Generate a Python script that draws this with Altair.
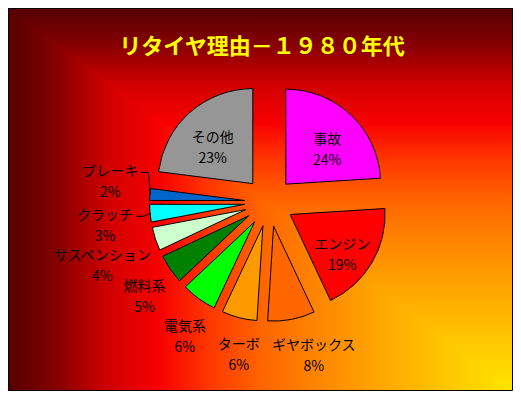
import altair as alt
import pandas as pd

# ---------------- data ----------------
TITLE = "リタイヤ理由－１９８０年代"
reasons = ["事故", "エンジン", "ギヤボックス", "ターボ", "電気系", "燃料系",
           "サスペンション", "クラッチ", "ブレーキ", "その他"]
shares = [24, 19, 8, 6, 6, 5, 4, 3, 2, 23]
colors = ["#FF00FF", "#FF0000", "#FF6600", "#FF9900", "#00FF00", "#008000",
          "#CCFFCC", "#00FFFF", "#0066CC", "#969696"]

# ---------------- layout / style ----------------
W, H = 505, 383
CX, CY = 261, 194          # pie centre (pixels)
OUTER = 95                 # pie radius
EXPLODE = 24.5             # slice explosion distance
R_IN = 85                  # radius for labels inside big slices
R_OUT = 123                # base radius for outside labels
HALF_H = 18                # half height of a two-line label
CHAR_HALF = 7              # half width of one full-width char
FONT = "Noto Sans CJK JP"
NUDGE = {"ギヤボックス": (17, -2), "ターボ": (6, 2), "電気系": (4, 4),
         "クラッチ": (-12, 0), "ブレーキ": (-7, -20)}
LEADERS = ["クラッチ", "ブレーキ"]

STOPS = [(0.00, "#550000"), (0.05, "#6E0000"), (0.10, "#880000"), (0.20, "#D20000"),
         (0.30, "#F80000"), (0.40, "#FF3800"), (0.50, "#FF6400"), (0.60, "#FF8200"),
         (0.75, "#FFAA00"), (1.00, "#FFE600")]
stops = [alt.GradientStop(offset=o, color=c) for o, c in STOPS]
GRAD_H = alt.LinearGradient(gradient="linear", stops=stops, x1=0, x2=1, y1=0, y2=0)
GRAD_V = alt.LinearGradient(gradient="linear", stops=stops, x1=0, x2=0, y1=0, y2=1)

df = pd.DataFrame({"reason": reasons, "share": shares, "idx": list(range(len(reasons)))})


def nudge_expr(i):
    expr = "0"
    for name, d in NUDGE.items():
        expr = f"datum.reason === '{name}' ? {d[i]} : ({expr})"
    return expr


base = (
    alt.Chart(df)
    .transform_window(cum="sum(share)", sort=[alt.SortField("idx", order="ascending")], frame=[None, 0])
    .transform_joinaggregate(total="sum(share)")
    .transform_calculate(
        t0="2*PI*(datum.cum - datum.share)/datum.total",
        t1="2*PI*datum.cum/datum.total",
        tm="(datum.t0 + datum.t1)/2",
        s="sin(datum.tm)",
        c="cos(datum.tm)",
        px=f"{CX} + {EXPLODE}*datum.s",
        py=f"{CY} - {EXPLODE}*datum.c",
        hw=f"{CHAR_HALF}*length(datum.reason)",
        rl=f"datum.share >= 10 ? {R_IN} : {R_OUT} + abs(datum.s)*datum.hw + abs(datum.c)*{HALF_H}",
        nx=nudge_expr(0),
        ny=nudge_expr(1),
        lx=f"{CX} + datum.rl*datum.s + datum.nx",
        ly=f"{CY} - datum.rl*datum.c + datum.ny",
        label="datum.reason + '\\n' + datum.share + '%'",
    )
)

# background: horizontal gradient + upper-right triangle with vertical gradient
bg_rect = alt.Chart(pd.DataFrame({"a": [0]})).mark_rect(color=GRAD_H).encode(
    x=alt.value(0), x2=alt.value(W), y=alt.value(0), y2=alt.value(H)
)
tri = pd.DataFrame({"bx": [0, 1], "by": [1, 1], "by2": [1, 0]})
bg_tri = alt.Chart(tri).mark_area(color=GRAD_V, line=False).encode(
    x=alt.X("bx:Q", scale=alt.Scale(domain=[0, 1], nice=False, zero=False), axis=None),
    y=alt.Y("by:Q", scale=alt.Scale(domain=[0, 1], nice=False, zero=False), axis=None, stack=False),
    y2="by2:Q",
)

arcs = base.mark_arc(outerRadius=OUTER, stroke="black", strokeWidth=1).encode(
    theta=alt.Theta("t0:Q", scale=None, stack=False),
    theta2="t1:Q",
    x=alt.X("px:Q", scale=None, axis=None),
    y=alt.Y("py:Q", scale=None, axis=None),
    color=alt.Color("reason:N", scale=alt.Scale(domain=reasons, range=colors), legend=None),
)

labels = base.mark_text(font=FONT, fontSize=14, color="black", lineBreak="\n",
                        lineHeight=21, align="center", baseline="middle").encode(
    x=alt.X("lx:Q", scale=None, axis=None),
    y=alt.Y("ly:Q", scale=None, axis=None),
    text="label:N",
)

lead = base.transform_filter(alt.FieldOneOfPredicate(field="reason", oneOf=LEADERS)).transform_calculate(
    ex1="datum.lx + datum.hw + 3",
    ex2="datum.lx + datum.hw + 10",
    ox=f"{CX} + {EXPLODE + OUTER - 1}*datum.s",
    oy=f"{CY} - {EXPLODE + OUTER - 1}*datum.c",
)
lead1 = lead.mark_rule(color="black", strokeWidth=1).encode(
    x=alt.X("ex1:Q", scale=None, axis=None), x2="ex2:Q",
    y=alt.Y("ly:Q", scale=None, axis=None), y2="ly:Q",
)
lead2 = lead.mark_rule(color="black", strokeWidth=1).encode(
    x=alt.X("ex2:Q", scale=None, axis=None), x2="ox:Q",
    y=alt.Y("ly:Q", scale=None, axis=None), y2="oy:Q",
)

title = alt.Chart(pd.DataFrame({"title": [TITLE]})).mark_text(
    font=FONT, fontSize=22, fontWeight="bold", color="#FFFF00", align="center", baseline="middle"
).encode(x=alt.value(254), y=alt.value(39), text="title:N")

frame = alt.Chart(pd.DataFrame({"a": [0]})).mark_rect(filled=False, stroke="black", strokeWidth=1).encode(
    x=alt.value(0.5), x2=alt.value(W - 0.5), y=alt.value(0.5), y2=alt.value(H - 0.5)
)

chart = (
    alt.layer(bg_rect, bg_tri, arcs, labels, lead1, lead2, title, frame)
    .resolve_scale(x="independent", y="independent")
    .properties(width=W, height=H, padding=0,
                autosize=alt.AutoSizeParams(type="fit", contains="padding"))
    .configure_view(strokeWidth=0)
)

chart.save("out.html", embed_options={"renderer": "svg", "actions": False})
